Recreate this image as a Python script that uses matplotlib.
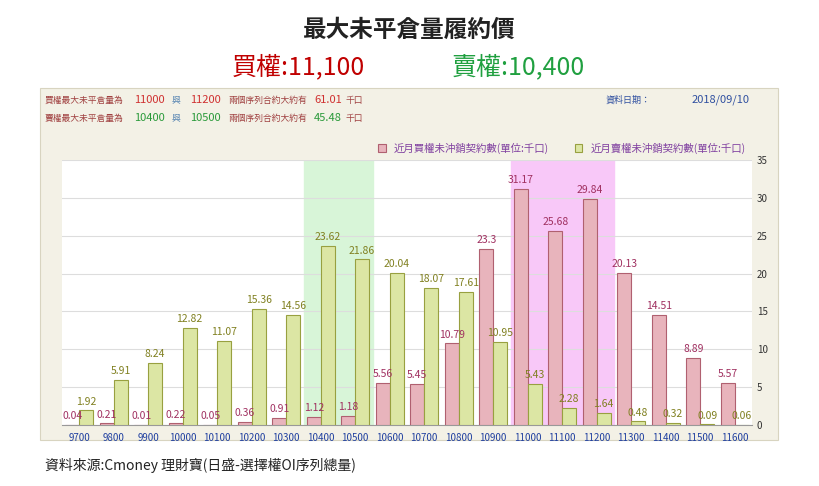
import matplotlib
matplotlib.use("Agg")
import matplotlib.pyplot as plt
import numpy as np
from matplotlib.patches import Rectangle

plt.rcParams['font.family'] = ['Noto Sans CJK JP', 'DejaVu Sans']

strikes = ['9700','9800','9900','10000','10100','10200','10300','10400','10500','10600',
           '10700','10800','10900','11000','11100','11200','11300','11400','11500','11600']
calls = [0.04,0.21,0.01,0.22,0.05,0.36,0.91,1.12,1.18,5.56,5.45,10.79,23.3,31.17,25.68,29.84,20.13,14.51,8.89,5.57]
puts = [1.92,5.91,8.24,12.82,11.07,15.36,14.56,23.62,21.86,20.04,18.07,17.61,10.95,5.43,2.28,1.64,0.48,0.32,0.09,0.06]
yticks = [0,5,10,15,20,25,30,35]

W, H = 819, 486
fig = plt.figure(figsize=(W/100, H/100), dpi=100)
def fx(x): return x/W
def fy(y): return 1 - y/H

fig.text(0.5, fy(30), '最大未平倉量履約價', ha='center', va='center', fontsize=17, fontweight='bold', color='#222222')
fig.text(fx(298), fy(67), '買權:11,100', ha='center', va='center', fontsize=18, color='#c00000')
fig.text(fx(518), fy(67), '賣權:10,400', ha='center', va='center', fontsize=18, color='#20a040')

fig.patches.append(Rectangle((fx(40), fy(440)), fx(778)-fx(40), fy(88)-fy(440), transform=fig.transFigure,
                             facecolor='#f3f1e6', edgecolor='#d8d4c0', lw=0.8, zorder=-5))
red = '#d03030'; grn = '#2a9a3a'; lab = '#a04040'
for yy, c, a, b, v in [(100, red, '11000', '11200', '61.01'), (118, grn, '10400', '10500', '45.48')]:
    fig.text(fx(45), fy(yy), ('買權' if c == red else '賣權') + '最大未平倉量為', fontsize=6.3, color=lab, va='center')
    fig.text(fx(134), fy(yy), a, fontsize=8, color=c, va='center')
    fig.text(fx(172), fy(yy), '與', fontsize=6.3, color='#5080b0', va='center')
    fig.text(fx(190), fy(yy), b, fontsize=8, color=c, va='center')
    fig.text(fx(228), fy(yy), '兩個序列合約大約有', fontsize=6.3, color=lab, va='center')
    fig.text(fx(314), fy(yy), v, fontsize=8, color=c, va='center')
    fig.text(fx(345), fy(yy), '千口', fontsize=6.3, color=lab, va='center')
fig.text(fx(606), fy(100), '資料日期：', fontsize=6.5, color='#3050a0', va='center')
fig.text(fx(692), fy(100), '2018/09/10', fontsize=8, color='#3050a0', va='center')

ax = fig.add_axes([fx(62), fy(425), fx(752)-fx(62), fy(160)-fy(425)])
ax.set_facecolor('white')
x = np.arange(len(strikes))
bw = 0.4
ax.axvspan(6.5, 8.5, color='#d8f5d8', zorder=0)
ax.axvspan(12.5, 15.5, color='#f8c8f8', zorder=0)
ax.bar(x - bw/2, calls, bw, color='#e8b4bc', edgecolor='#b06070', lw=0.8, zorder=3, label='近月買權未沖銷契約數(單位:千口)')
ax.bar(x + bw/2, puts, bw, color='#dce6a4', edgecolor='#98a040', lw=0.8, zorder=3, label='近月賣權未沖銷契約數(單位:千口)')
for i in range(len(x)):
    ax.text(x[i]-bw/2, calls[i]+0.5, f'{calls[i]:g}', ha='center', va='bottom', fontsize=7.5, color='#a03060', zorder=4)
    ax.text(x[i]+bw/2, puts[i]+0.5, f'{puts[i]:g}', ha='center', va='bottom', fontsize=7.5, color='#808020', zorder=4)
ax.set_xlim(-0.5, len(x)-0.5)
ax.set_ylim(0, 35)
ax.set_yticks(yticks)
ax.yaxis.tick_right()
ax.tick_params(axis='y', labelsize=7, length=0, colors='#333333')
ax.set_xticks(x)
ax.set_xticklabels(strikes, fontsize=7, color='#2040a0')
ax.tick_params(axis='x', length=0, pad=6)
ax.grid(axis='y', color='#dddddd', lw=0.8, zorder=1)
for s in ['top', 'right', 'left']:
    ax.spines[s].set_visible(False)
ax.spines['bottom'].set_color('#999999')
ax.legend(loc='lower right', bbox_to_anchor=(1.0, 1.0), ncol=2, fontsize=7.5, frameon=False,
          handlelength=0.7, handleheight=0.7, columnspacing=2.5, labelcolor='#8040a0', borderaxespad=0.2)

fig.text(fx(45), fy(465), '資料來源:Cmoney 理財寶(日盛-選擇權OI序列總量)', fontsize=10, color='#222222', va='center')
fig.savefig('out.png', dpi=100)
